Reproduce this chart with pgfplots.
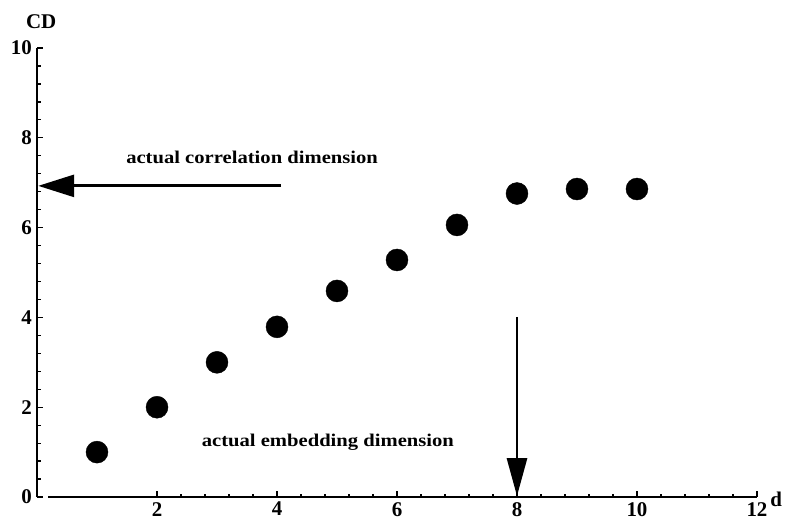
\documentclass[border=0pt]{standalone}
\usepackage{pgfplots}
\pgfplotsset{compat=1.18}
\usepackage{fontspec}
\setmainfont{Liberation Serif}
\usetikzlibrary{arrows.meta}
\begin{document}
\begin{tikzpicture}
\begin{axis}[
  scale only axis, width=720bp, height=449bp,
  xmin=0, xmax=12, ymin=0, ymax=10,
  axis lines=left,
  axis line style={-, line width=1.6bp},
  x axis line style={shorten <=11bp},
  xtick={2,4,6,8,10,12}, ytick={0,2,4,6,8,10},
  minor x tick num=4, minor y tick num=4,
  tick align=inside,
  major tick length=6bp, minor tick length=3.5bp,
  tick style={line width=1.2bp, black},
  /pgf/number format/assume math mode=true,
  ticklabel style={font=\fontsize{21}{21}\selectfont\bfseries, inner sep=1bp},
  xticklabel style={yshift=-4bp},
  yticklabel style={xshift=-4bp},
  clip=false,
]
\addplot[only marks, mark=*, mark size=11bp, black] coordinates {
(1,1.00) (2,2.00) (3,3.00) (4,3.79) (5,4.59) (6,5.28) (7,6.06) (8,6.76) (9,6.86) (10,6.86)
};
\addplot[line width=2.8bp, black, -{Triangle[length=36bp,width=22bp]}] coordinates {(4.07,6.93) (0.02,6.93)};
\addplot[line width=2.8bp, black, -{Triangle[length=38bp,width=20bp]}] coordinates {(8,4.01) (8,0.02)};
\node[anchor=west, xscale=1.15, font=\fontsize{18}{18}\selectfont\bfseries] at (axis cs:1.42,7.57) {actual correlation dimension};
\node[anchor=west, xscale=1.15, font=\fontsize{18}{18}\selectfont\bfseries] at (axis cs:2.68,1.22) {actual embedding dimension};
\node[font=\fontsize{21}{21}\selectfont\bfseries, inner sep=1bp] at (axis cs:0.07,10.58) {CD};
\node[font=\fontsize{21}{21}\selectfont\bfseries, inner sep=1bp] at (axis cs:12.32,-0.05) {d};
\path (axis cs:-0.617,-0.512) rectangle (axis cs:12.467,11.07);
\end{axis}
\end{tikzpicture}
\end{document}
